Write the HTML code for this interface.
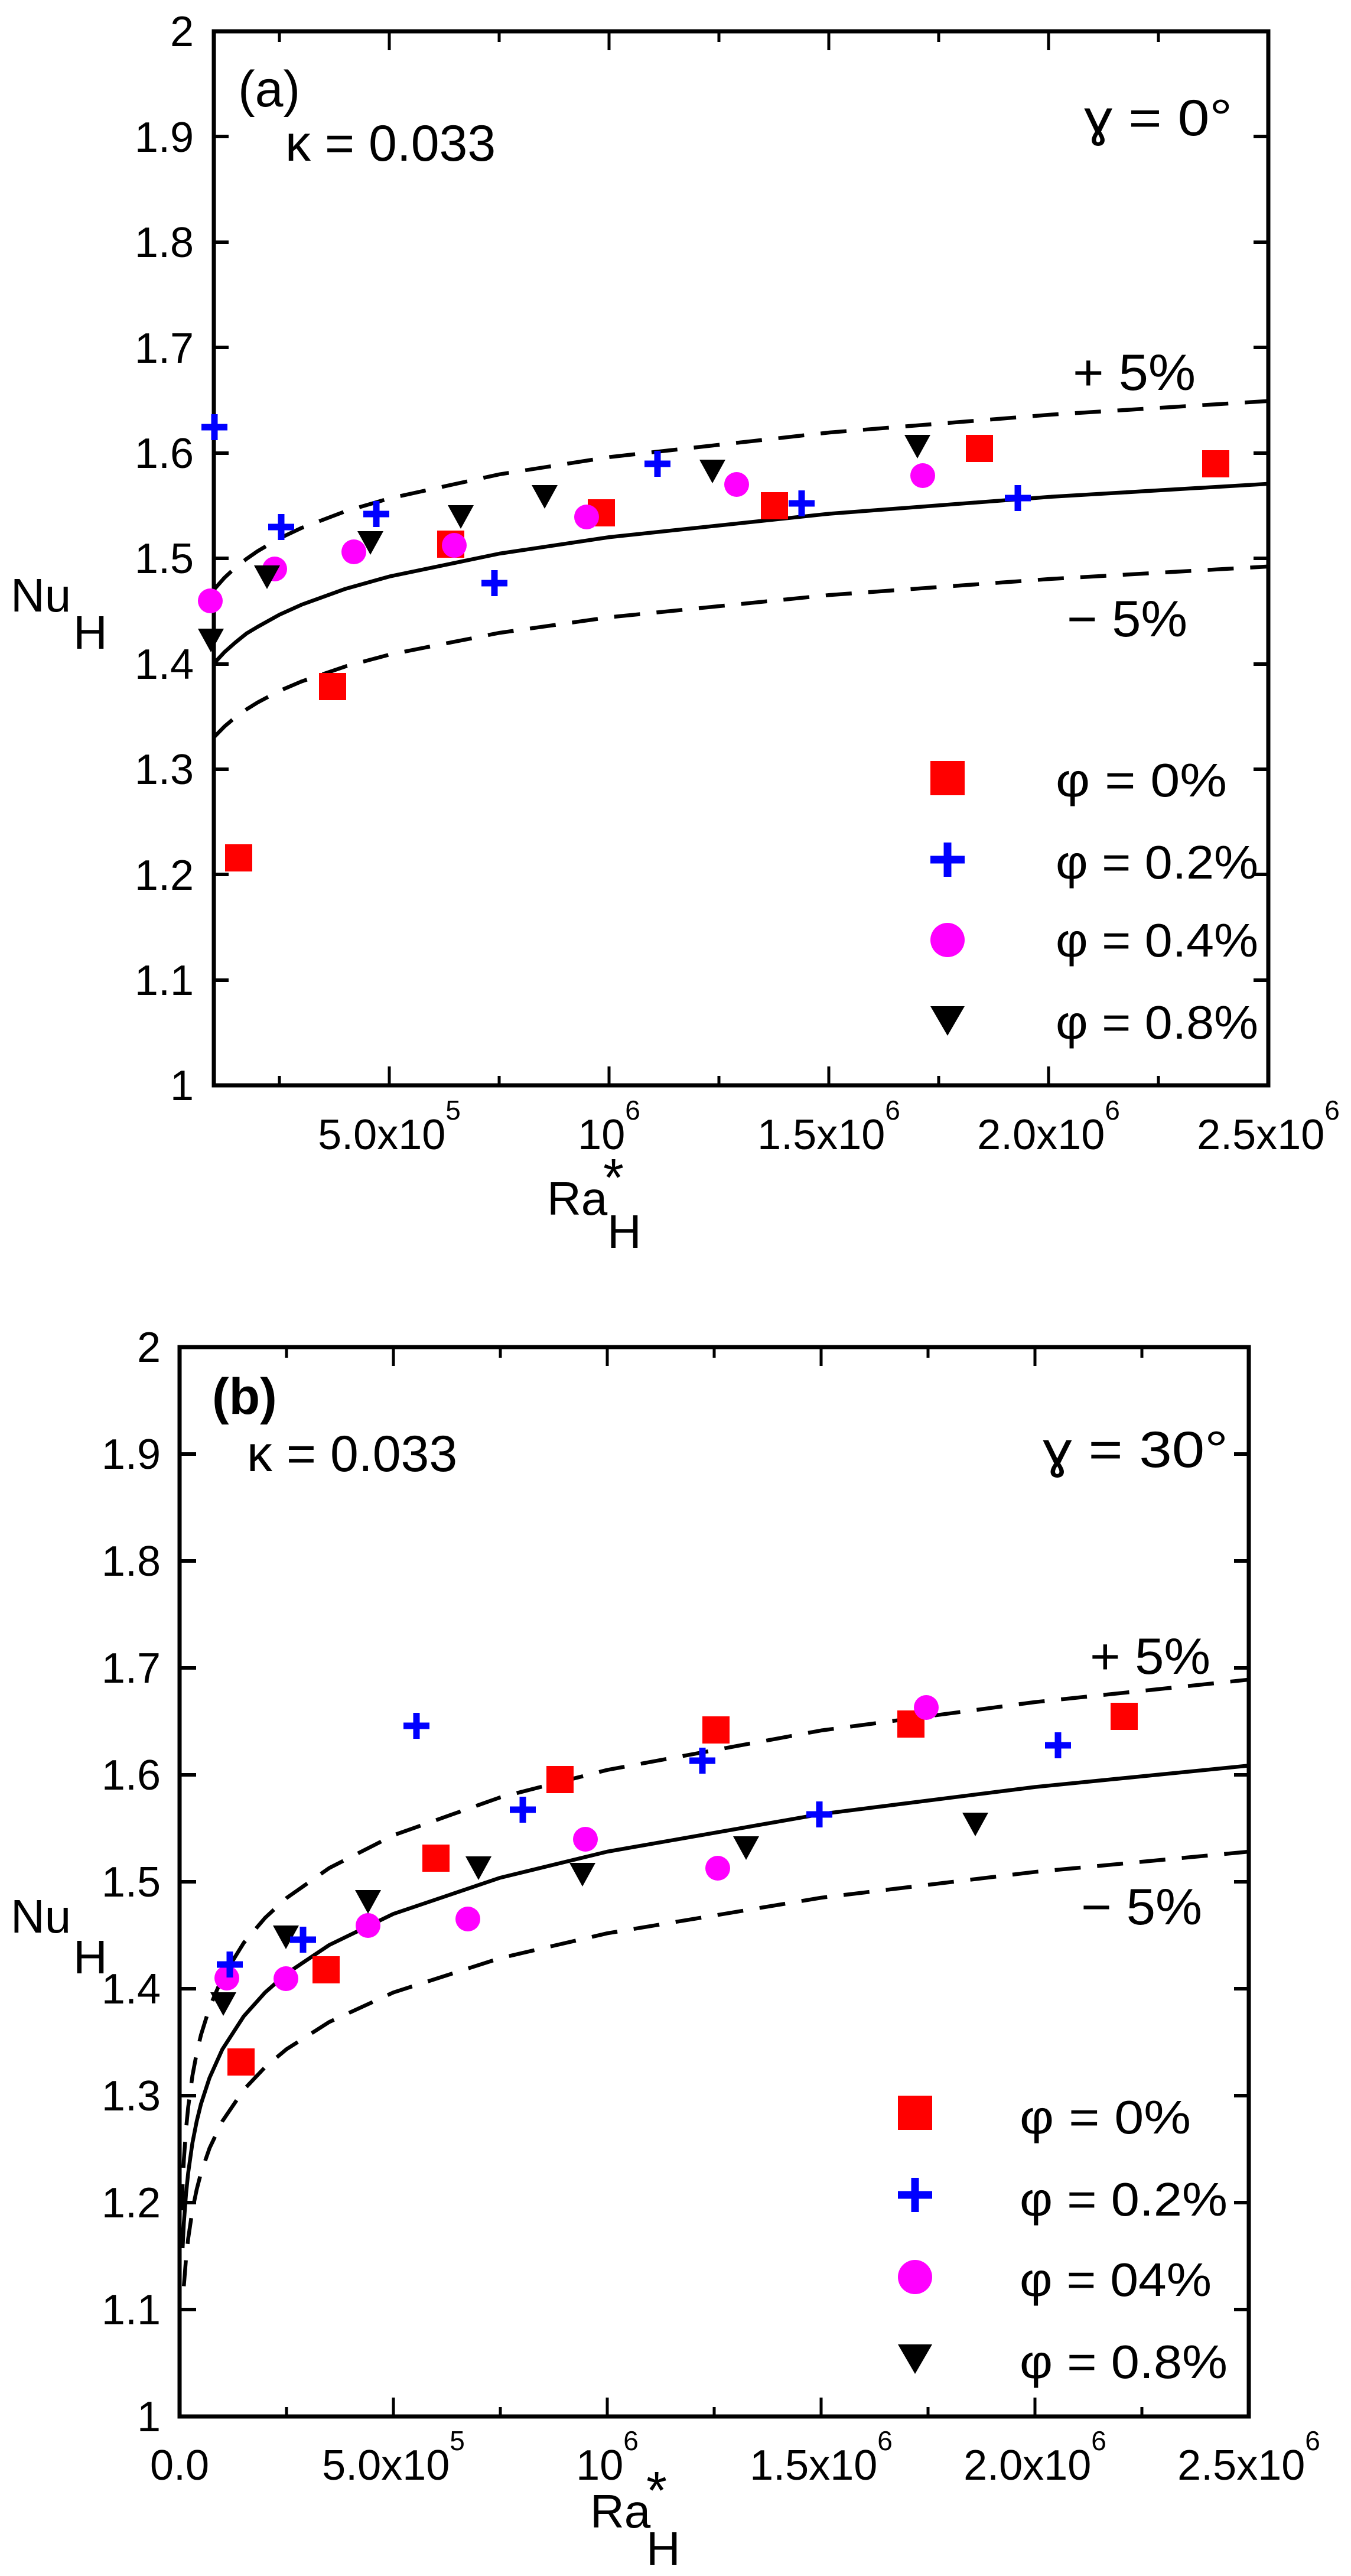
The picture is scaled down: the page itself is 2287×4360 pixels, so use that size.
<!DOCTYPE html>
<html><head><meta charset="utf-8"><style>
html,body{margin:0;padding:0;background:#fff;}
svg{display:block;}
text{font-family:"Liberation Sans",Arial,sans-serif;fill:#000;}
</style></head><body>
<svg width="2287" height="4360" viewBox="0 0 2287 4360" xmlns="http://www.w3.org/2000/svg">
<defs>
<clipPath id="ca"><rect x="362" y="53" width="1785" height="1784"/></clipPath>
<clipPath id="cb"><rect x="304" y="2280" width="1810" height="1810"/></clipPath>
</defs>

<!-- ================= PANEL A ================= -->
<g fill="none" stroke="#000" stroke-width="6">
<path d="M362 53h25M362 231h25M362 410h25M362 588h25M362 767h25M362 945h25M362 1124h25M362 1302h25M362 1480h25M362 1659h25
M2147 231h-25M2147 410h-25M2147 588h-25M2147 767h-25M2147 945h-25M2147 1124h-25M2147 1302h-25M2147 1480h-25M2147 1659h-25"/>
<path stroke-width="5" d="M659 1837v-32M1031 1837v-32M1403 1837v-32M1775 1837v-32M473 1837v-16M845 1837v-16M1217 1837v-16M1589 1837v-16M1961 1837v-16
M659 53v32M1031 53v32M1403 53v32M1775 53v32M473 53v18M845 53v18M1217 53v18M1589 53v18M1961 53v18"/>
<rect x="362" y="53" width="1785" height="1784" stroke-width="7"/>
</g>
<g clip-path="url(#ca)" fill="none" stroke="#000" stroke-width="6.5" stroke-linejoin="round">
<polyline points="361.5,1123.6 380.1,1103.6 398.7,1087.2 417.3,1072.2 436,1061 473.2,1040.3 510.4,1023.5 584.9,996.6 659.4,975.7 845.6,937 1031.8,909.1 1404.2,869.5 1776.6,841 2149,818.7"/>
<polyline stroke-dasharray="44,28" points="361.5,998.7 380.1,977.7 398.7,960.5 417.3,945.9 436,932.9 473.2,911.2 510.4,893.6 584.9,865.3 659.4,843.5 845.6,802.8 1031.8,773.6 1404.2,732 1776.6,702 2149,678.6"/>
<polyline stroke-dasharray="44,28" points="361.5,1248.5 380.1,1229.5 398.7,1213.8 417.3,1200.6 436,1189 473.2,1169.3 510.4,1153.4 584.9,1127.9 659.4,1107.9 845.6,1071.1 1031.8,1044.7 1404.2,1007.1 1776.6,980 2149,958.7"/>
</g>
<g fill="#ff0000">
<rect x="381" y="1429" width="46" height="46"/><rect x="540" y="1139" width="46" height="46"/><rect x="740" y="898" width="46" height="46"/><rect x="995" y="845" width="46" height="46"/><rect x="1288" y="833" width="46" height="46"/><rect x="1635" y="736" width="46" height="46"/><rect x="2035" y="762" width="46" height="46"/>
</g>
<g fill="#ff00ff">
<circle cx="356" cy="1017" r="21"/><circle cx="465" cy="963" r="21"/><circle cx="599" cy="934" r="21"/><circle cx="769" cy="923" r="21"/><circle cx="993" cy="875" r="21"/><circle cx="1247" cy="820" r="21"/><circle cx="1562" cy="805" r="21"/>
</g>
<g fill="#000">
<polygon points="335,1064 379,1064 357,1104"/><polygon points="430,957 474,957 452,997"/><polygon points="605,899 649,899 627,939"/><polygon points="758,855 802,855 780,895"/><polygon points="900,821 944,821 922,861"/><polygon points="1184,778 1228,778 1206,818"/><polygon points="1531,736 1575,736 1553,776"/>
</g>
<g stroke="#0000ff" stroke-width="11" fill="none">
<path d="M341 723h44M363 701v44 M454 892h44M476 870v44 M615 870h44M637 848v44 M815 987h44M837 965v44 M1091 785h44M1113 763v44 M1335 852h44M1357 830v44 M1701 843h44M1723 821v44"/>
</g>
<rect x="1575" y="1288" width="58" height="58" fill="#ff0000"/>
<path d="M1575 1455h58M1604 1426v58" stroke="#0000ff" stroke-width="13"/>
<circle cx="1604" cy="1591" r="29" fill="#ff00ff"/>
<polygon points="1575,1703 1633,1703 1604,1753" fill="#000"/>
<g font-size="80">
<text x="1787" y="1348" textLength="290" lengthAdjust="spacingAndGlyphs">φ = 0%</text>
<text x="1787" y="1487" textLength="343" lengthAdjust="spacingAndGlyphs">φ = 0.2%</text>
<text x="1787" y="1619" textLength="343" lengthAdjust="spacingAndGlyphs">φ = 0.4%</text>
<text x="1787" y="1758" textLength="343" lengthAdjust="spacingAndGlyphs">φ = 0.8%</text>
</g>
<g font-size="72" text-anchor="end">
<text x="328" y="78">2</text><text x="328" y="257">1.9</text><text x="328" y="435">1.8</text><text x="328" y="614">1.7</text><text x="328" y="792">1.6</text><text x="328" y="970">1.5</text><text x="328" y="1149">1.4</text><text x="328" y="1327">1.3</text><text x="328" y="1506">1.2</text><text x="328" y="1684">1.1</text><text x="328" y="1862">1</text>
</g>
<g font-size="72" text-anchor="middle">
<text x="659" y="1945">5.0x10<tspan font-size="46" dy="-50">5</tspan></text>
<text x="1031" y="1945">10<tspan font-size="46" dy="-50">6</tspan></text>
<text x="1403" y="1945">1.5x10<tspan font-size="46" dy="-50">6</tspan></text>
<text x="1775" y="1945">2.0x10<tspan font-size="46" dy="-50">6</tspan></text>
<text x="2147" y="1945">2.5x10<tspan font-size="46" dy="-50">6</tspan></text>
</g>
<g font-size="80">
<text x="18" y="1035">Nu</text><text x="124" y="1098">H</text>
<text x="926" y="2056">Ra</text><text x="1021" y="2024" font-size="90">*</text><text x="1028" y="2112">H</text>
<text x="403" y="180" font-size="86">(a)</text>
<text x="483" y="272" font-size="86">κ = 0.033</text>
<text x="1835" y="229" font-size="86" textLength="251" lengthAdjust="spacingAndGlyphs">ɣ = 0°</text>
<text x="1816" y="660" font-size="86" textLength="208" lengthAdjust="spacingAndGlyphs">+ 5%</text>
<text x="1806" y="1077" font-size="86" textLength="204" lengthAdjust="spacingAndGlyphs">− 5%</text>
</g>

<!-- ================= PANEL B ================= -->
<g fill="none" stroke="#000" stroke-width="6">
<path d="M304 2461h28M304 2642h28M304 2823h28M304 3004h28M304 3185h28M304 3366h28M304 3547h28M304 3728h28M304 3909h28
M2114 2461h-25M2114 2642h-25M2114 2823h-25M2114 3004h-25M2114 3185h-25M2114 3366h-25M2114 3547h-25M2114 3728h-25M2114 3909h-25"/>
<path stroke-width="5" d="M666 4090v-32M1028 4090v-32M1390 4090v-32M1752 4090v-32M485 4090v-16M847 4090v-16M1209 4090v-16M1571 4090v-16M1933 4090v-16
M666 2280v32M1028 2280v32M1390 2280v32M1752 2280v32M485 2280v18M847 2280v18M1209 2280v18M1571 2280v18M1933 2280v18"/>
<rect x="304" y="2280" width="1810" height="1810" stroke-width="7"/>
</g>
<g clip-path="url(#cb)" fill="none" stroke="#000" stroke-width="6.5" stroke-linejoin="round">
<polyline points="309.1,3805 311.2,3762.8 314.9,3713.5 318.5,3678.2 325.7,3627.2 333,3590.3 340.2,3561.1 354.7,3516.8 376.4,3468.6 412.6,3412.7 448.8,3372.3 485,3340.5 557.4,3292 666,3239.3 847,3178.1 1028,3134 1390,3070.4 1752,3024.6 2114,2988.4"/>
<polyline stroke-dasharray="44,28" points="307.6,3741 309.1,3700.1 311.2,3656 314.9,3604.2 318.5,3567.1 325.7,3513.5 333,3474.8 340.2,3444.2 354.7,3397.7 376.4,3347 412.6,3288.4 448.8,3246 485,3212.5 557.4,3161.7 666,3106.3 847,3042 1028,2995.7 1390,2928.9 1752,2880.9 2114,2842.9"/>
<polyline stroke-dasharray="44,28" points="311.2,3869.5 314.9,3822.8 318.5,3789.4 325.7,3740.9 333,3705.7 340.2,3678 354.7,3635.9 376.4,3590.3 412.6,3537 448.8,3498.7 485,3468.4 557.4,3422.3 666,3372.3 847,3314.2 1028,3272.2 1390,3212 1752,3168.3 2114,3134"/>
</g>
<g fill="#ff0000">
<rect x="385" y="3467" width="46" height="46"/><rect x="529" y="3311" width="46" height="46"/><rect x="715" y="3122" width="46" height="46"/><rect x="925" y="2989" width="46" height="46"/><rect x="1189" y="2905" width="46" height="46"/><rect x="1519" y="2895" width="46" height="46"/><rect x="1880" y="2882" width="46" height="46"/>
</g>
<g fill="#ff00ff">
<circle cx="384" cy="3348" r="21"/><circle cx="484" cy="3349" r="21"/><circle cx="623" cy="3259" r="21"/><circle cx="792" cy="3248" r="21"/><circle cx="991" cy="3113" r="21"/><circle cx="1215" cy="3162" r="21"/><circle cx="1568" cy="2890" r="21"/>
</g>
<g fill="#000">
<polygon points="356,3372 400,3372 378,3412"/><polygon points="462,3259 506,3259 484,3299"/><polygon points="601,3199 645,3199 623,3239"/><polygon points="788,3142 832,3142 810,3182"/><polygon points="964,3153 1008,3153 986,3193"/><polygon points="1241,3108 1285,3108 1263,3148"/><polygon points="1629,3068 1673,3068 1651,3108"/>
</g>
<g stroke="#0000ff" stroke-width="11" fill="none">
<path d="M367 3325h44M389 3303v44 M491 3283h44M513 3261v44 M683 2921h44M705 2899v44 M863 3063h44M885 3041v44 M1167 2980h44M1189 2958v44 M1365 3071h44M1387 3049v44 M1769 2954h44M1791 2932v44"/>
</g>
<rect x="1520" y="3547" width="58" height="58" fill="#ff0000"/>
<path d="M1520 3715h58M1549 3686v58" stroke="#0000ff" stroke-width="13"/>
<circle cx="1549" cy="3854" r="29" fill="#ff00ff"/>
<polygon points="1520,3968 1578,3968 1549,4018" fill="#000"/>
<g font-size="80">
<text x="1726" y="3611" textLength="290" lengthAdjust="spacingAndGlyphs">φ = 0%</text>
<text x="1726" y="3750" textLength="352" lengthAdjust="spacingAndGlyphs">φ = 0.2%</text>
<text x="1726" y="3886" textLength="325" lengthAdjust="spacingAndGlyphs">φ = 04%</text>
<text x="1726" y="4025" textLength="352" lengthAdjust="spacingAndGlyphs">φ = 0.8%</text>
</g>
<g font-size="72" text-anchor="end">
<text x="272" y="2305">2</text><text x="272" y="2486">1.9</text><text x="272" y="2667">1.8</text><text x="272" y="2848">1.7</text><text x="272" y="3029">1.6</text><text x="272" y="3210">1.5</text><text x="272" y="3391">1.4</text><text x="272" y="3572">1.3</text><text x="272" y="3753">1.2</text><text x="272" y="3934">1.1</text><text x="272" y="4115">1</text>
</g>
<g font-size="72" text-anchor="middle">
<text x="304" y="4197">0.0</text>
<text x="666" y="4197">5.0x10<tspan font-size="46" dy="-50">5</tspan></text>
<text x="1028" y="4197">10<tspan font-size="46" dy="-50">6</tspan></text>
<text x="1390" y="4197">1.5x10<tspan font-size="46" dy="-50">6</tspan></text>
<text x="1752" y="4197">2.0x10<tspan font-size="46" dy="-50">6</tspan></text>
<text x="2114" y="4197">2.5x10<tspan font-size="46" dy="-50">6</tspan></text>
</g>
<g font-size="80">
<text x="18" y="3271">Nu</text><text x="124" y="3340">H</text>
<text x="999" y="4278">Ra</text><text x="1094" y="4246" font-size="90">*</text><text x="1094" y="4341">H</text>
<text x="359" y="2393" font-size="86" font-weight="bold">(b)</text>
<text x="418" y="2490" font-size="86">κ = 0.033</text>
<text x="1765" y="2483" font-size="86" textLength="314" lengthAdjust="spacingAndGlyphs">ɣ = 30°</text>
<text x="1845" y="2833" font-size="86" textLength="204" lengthAdjust="spacingAndGlyphs">+ 5%</text>
<text x="1830" y="3257" font-size="86" textLength="205" lengthAdjust="spacingAndGlyphs">− 5%</text>
</g>
</svg>
</body></html>
